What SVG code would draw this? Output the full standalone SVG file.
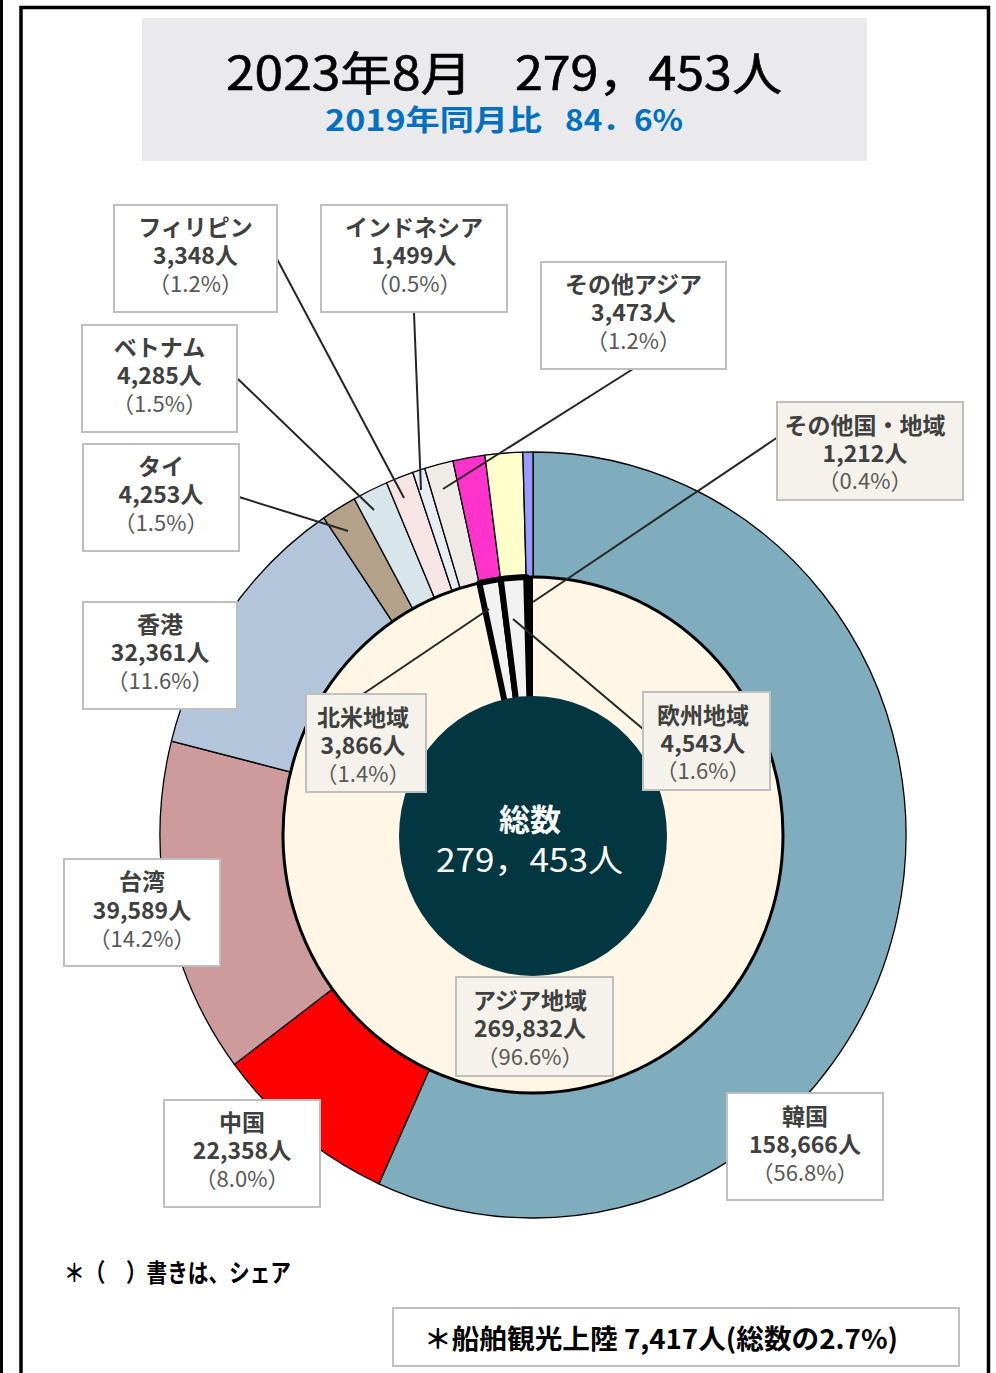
<svg xmlns="http://www.w3.org/2000/svg" width="996" height="1373" viewBox="0 0 996 1373">
<style>
.box{fill:#FFFFFF;stroke:#BFBFBF;stroke-width:2}
.boxi{fill:#F5F2EC;stroke:#BFBFBF;stroke-width:2}
.n{font-family:"Noto Sans CJK JP","Noto Sans CJK SC",sans-serif;font-weight:bold;font-size:23px;fill:#404040;text-anchor:middle}
.p{font-weight:normal;font-size:22px;fill:#595959}
.lead{stroke:#262626;stroke-width:2;fill:none}
.seg{stroke:#000;stroke-width:1.3;stroke-linejoin:round}
.iseg{stroke:#000;stroke-width:6;stroke-linejoin:round}
.t{font-family:"Noto Sans CJK JP","Noto Sans CJK SC",sans-serif}
.ti{font-size:46px;fill:#000;stroke:#000;stroke-width:0.6}
.st{font-size:29px;font-weight:bold;fill:#0070C0}
</style>
<rect width="996" height="1373" fill="#FFFFFF"/>
<g id="frame" fill="none" stroke="#000">
<path d="M21,1373 V7.5 H988.5 V1373" stroke-width="3.5"/>
<line x1="1.5" y1="0" x2="1.5" y2="1373" stroke-width="3"/>
</g>
<g id="title">
<rect x="142" y="18" width="725" height="143" fill="#EAEAEC"/>
<text class="t ti" x="226" y="90" textLength="246" lengthAdjust="spacingAndGlyphs">2023年8月</text>
<text class="t ti" x="515" y="90" textLength="267" lengthAdjust="spacingAndGlyphs">279，453人</text>
<text class="t st" x="325" y="131" textLength="217" lengthAdjust="spacingAndGlyphs">2019年同月比</text>
<text class="t st" x="565" y="131" textLength="118" lengthAdjust="spacingAndGlyphs">84．6%</text>
</g>
<g id="outer-ring">
<path class="seg" fill="#7FADBD" d="M533,835 L533,452 A373,383 0 1 1 378.91,1183.79 Z"/>
<path class="seg" fill="#FF0000" d="M533,835 L378.91,1183.79 A373,383 0 0 1 234.33,1064.42 Z"/>
<path class="seg" fill="#CD9B9C" d="M533,835 L234.33,1064.42 A373,383 0 0 1 171.40,741.05 Z"/>
<path class="seg" fill="#B3C5DA" d="M533,835 L171.40,741.05 A373,383 0 0 1 323.81,517.90 Z"/>
<path class="seg" fill="#B3A189" d="M533,835 L323.81,517.90 A373,383 0 0 1 354.27,498.83 Z"/>
<path class="seg" fill="#D8E5EB" d="M533,835 L354.27,498.83 A373,383 0 0 1 386.59,482.74 Z"/>
<path class="seg" fill="#F7E4E5" d="M533,835 L386.59,482.74 A373,383 0 0 1 412.79,472.43 Z"/>
<path class="seg" fill="#E6EEF4" d="M533,835 L412.79,472.43 A373,383 0 0 1 424.76,468.48 Z"/>
<path class="seg" fill="#EFECE7" d="M533,835 L424.76,468.48 A373,383 0 0 1 452.97,460.92 Z"/>
<path class="seg" fill="#FF33CC" d="M533,835 L452.97,460.92 A373,383 0 0 1 484.89,455.20 Z"/>
<path class="seg" fill="#FFFFCC" d="M533,835 L484.89,455.20 A373,383 0 0 1 522.85,452.14 Z"/>
<path class="seg" fill="#9999FF" d="M533,835 L522.85,452.14 A373,383 0 0 1 533,452 Z"/>
</g>
<g id="inner-ring">
<path fill="#FFF6E6" d="M533,835 L533,577 A250,258 0 1 1 479.36,583.01 Z"/>
<path class="iseg" fill="#F2F2F2" d="M533,835 L479.36,583.01 A250,258 0 0 1 500.76,579.15 Z"/>
<path class="iseg" fill="#F2F2F2" d="M533,835 L500.76,579.15 A250,258 0 0 1 526.19,577.10 Z"/>
<path fill="#000" d="M533,835 L526.19,577.10 A250,258 0 0 1 533,577 Z"/>
<ellipse cx="533" cy="835" rx="250" ry="258" fill="none" stroke="#000" stroke-width="3"/>
</g>
<g id="center">
<ellipse cx="533" cy="836" rx="134" ry="140" fill="#023640"/>
<text class="t" x="530" y="831" font-size="31" font-weight="bold" fill="#FFFFFF" text-anchor="middle">総数</text>
<text class="t" x="436" y="872" font-size="32" fill="#FFFFFF" textLength="187" lengthAdjust="spacingAndGlyphs">279，453人</text>
</g>
<g id="connectors">
<line class="lead" x1="277" y1="259" x2="404" y2="498"/>
<line class="lead" x1="414" y1="313" x2="421" y2="490"/>
<line class="lead" x1="633" y1="369" x2="443" y2="489"/>
<line class="lead" x1="238" y1="379" x2="374" y2="510"/>
<line class="lead" x1="239" y1="497" x2="348" y2="531"/>
<line class="lead" x1="778" y1="437" x2="533" y2="602"/>
<line class="lead" x1="363" y1="694" x2="489" y2="609"/>
<line class="lead" x1="643" y1="729" x2="513" y2="619"/>
</g>
<g id="label-philippines">
<rect class="box" x="114" y="205" width="163" height="107"/>
<text class="n" x="195.5" y="236">フィリピン<tspan x="195.5" dy="28">3,348人</tspan><tspan class="p" x="195.5" dy="28">（1.2%）</tspan></text>
</g>
<g id="label-indonesia">
<rect class="box" x="321" y="205" width="186" height="107"/>
<text class="n" x="414" y="236">インドネシア<tspan x="414" dy="28">1,499人</tspan><tspan class="p" x="414" dy="28">（0.5%）</tspan></text>
</g>
<g id="label-other-asia">
<rect class="box" x="541" y="262" width="185" height="107"/>
<text class="n" x="633.5" y="293">その他アジア<tspan x="633.5" dy="28">3,473人</tspan><tspan class="p" x="633.5" dy="28">（1.2%）</tspan></text>
</g>
<g id="label-vietnam">
<rect class="box" x="82" y="325" width="155" height="107"/>
<text class="n" x="159.5" y="356">ベトナム<tspan x="159.5" dy="28">4,285人</tspan><tspan class="p" x="159.5" dy="28">（1.5%）</tspan></text>
</g>
<g id="label-thai">
<rect class="box" x="83" y="444" width="156" height="107"/>
<text class="n" x="161" y="475">タイ<tspan x="161" dy="28">4,253人</tspan><tspan class="p" x="161" dy="28">（1.5%）</tspan></text>
</g>
<g id="label-other-region">
<rect class="boxi" x="777" y="402" width="186" height="98"/>
<text class="n" x="865" y="434">その他国・地域<tspan x="865" dy="28">1,212人</tspan><tspan class="p" x="865" dy="27">（0.4%）</tspan></text>
</g>
<g id="label-hongkong">
<rect class="box" x="83" y="602" width="154" height="107"/>
<text class="n" x="160" y="633">香港<tspan x="160" dy="28">32,361人</tspan><tspan class="p" x="160" dy="28">（11.6%）</tspan></text>
</g>
<g id="label-north-america">
<rect class="boxi" x="306" y="694" width="120" height="98"/>
<text class="n" x="363" y="726">北米地域<tspan x="363" dy="28">3,866人</tspan><tspan class="p" x="363" dy="28">（1.4%）</tspan></text>
</g>
<g id="label-europe">
<rect class="boxi" x="643" y="692" width="127" height="98"/>
<text class="n" x="703" y="724">欧州地域<tspan x="703" dy="28">4,543人</tspan><tspan class="p" x="703" dy="27">（1.6%）</tspan></text>
</g>
<g id="label-taiwan">
<rect class="box" x="64" y="859" width="156" height="107"/>
<text class="n" x="142" y="890">台湾<tspan x="142" dy="29">39,589人</tspan><tspan class="p" x="142" dy="28">（14.2%）</tspan></text>
</g>
<g id="label-asia">
<rect class="boxi" x="456" y="977" width="157" height="99"/>
<text class="n" x="530" y="1009">アジア地域<tspan x="530" dy="28">269,832人</tspan><tspan class="p" x="530" dy="28">（96.6%）</tspan></text>
</g>
<g id="label-china">
<rect class="box" x="164" y="1100" width="156" height="107"/>
<text class="n" x="242" y="1131">中国<tspan x="242" dy="28">22,358人</tspan><tspan class="p" x="242" dy="28">（8.0%）</tspan></text>
</g>
<g id="label-korea">
<rect class="box" x="727" y="1093" width="156" height="107"/>
<text class="n" x="805" y="1125">韓国<tspan x="805" dy="28">158,666人</tspan><tspan class="p" x="805" dy="28">（56.8%）</tspan></text>
</g>
<g id="note">
<text class="t" x="64" y="1282" font-size="25" font-weight="bold" fill="#000" textLength="227" lengthAdjust="spacingAndGlyphs">＊（　）書きは、シェア</text>
</g>
<g id="cruise-note">
<rect x="393" y="1308" width="566" height="58" fill="#FFFFFF" stroke="#BFBFBF" stroke-width="2"/>
<text class="t" x="424" y="1349" font-size="27" font-weight="bold" fill="#000" textLength="474" lengthAdjust="spacingAndGlyphs">＊船舶観光上陸 7,417人(総数の2.7%)</text>
</g>
</svg>
